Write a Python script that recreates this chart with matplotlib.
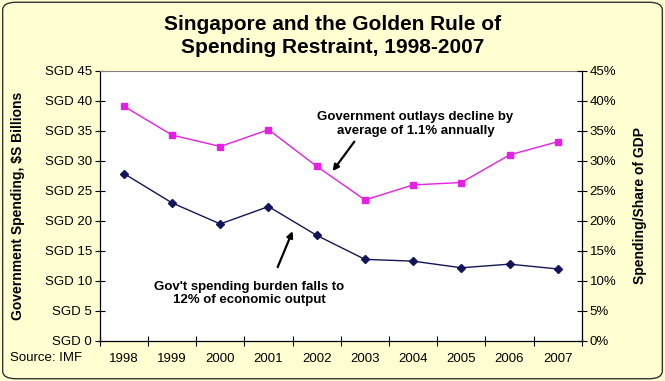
import matplotlib.pyplot as plt
from matplotlib.patches import FancyBboxPatch

plt.rcParams['font.family'] = ['Liberation Sans', 'DejaVu Sans']

years = ['1998', '1999', '2000', '2001', '2002', '2003', '2004', '2005', '2006', '2007']
outlays = [39.1, 34.3, 32.4, 35.2, 29.1, 23.5, 26.0, 26.4, 31.0, 33.2]   # SGD billions
share_gdp = [27.9, 23.0, 19.5, 22.4, 17.6, 13.6, 13.3, 12.2, 12.8, 12.0]  # % of GDP
left_ticks = ['SGD 0', 'SGD 5', 'SGD 10', 'SGD 15', 'SGD 20', 'SGD 25',
              'SGD 30', 'SGD 35', 'SGD 40', 'SGD 45']
right_ticks = ['0%', '5%', '10%', '15%', '20%', '25%', '30%', '35%', '40%', '45%']

bg = '#FFFFD2'
fig = plt.figure(figsize=(6.65, 3.81), dpi=100, facecolor=bg)
fig.patches.append(FancyBboxPatch((0.004, 0.006), 0.992, 0.988,
                                  boxstyle='round,pad=0,rounding_size=0.02',
                                  transform=fig.transFigure, facecolor=bg,
                                  edgecolor='#333333', linewidth=1.0, zorder=-1))

ax = fig.add_axes([0.150, 0.105, 0.725, 0.709])
ax.set_facecolor('white')
x = list(range(len(years)))

ax.plot(x, outlays, color='#E61EE6', lw=1.0, marker='s', ms=5,
        mfc='#E61EE6', mec='#E61EE6', zorder=3)
ax.plot(x, share_gdp, color='#14145A', lw=1.0, marker='D', ms=4,
        mfc='#14145A', mec='#14145A', zorder=3)

ax.set_xlim(-0.5, len(years) - 0.5)
ax.set_ylim(0, 45)
ax.set_yticks(range(0, 46, 5))
ax.set_yticklabels(left_ticks)
ax.set_xticks([i - 0.5 for i in range(len(years) + 1)])
ax.set_xticklabels([])
ax.set_xticks(x, minor=True)
ax.set_xticklabels(years, minor=True)
ax.tick_params(axis='x', which='minor', length=0, pad=9, labelsize=9.5)
ax.tick_params(axis='x', which='major', direction='inout', length=7, width=0.8)
ax.tick_params(axis='y', direction='inout', length=7, width=0.8, labelsize=9.5, pad=2)

for s in ['left', 'bottom']:
    ax.spines[s].set_color('black')
    ax.spines[s].set_linewidth(0.9)
ax.spines['top'].set_color('#808080')
ax.spines['right'].set_visible(False)

ax2 = ax.twinx()
ax2.set_ylim(0, 45)
ax2.set_yticks(range(0, 46, 5))
ax2.set_yticklabels(right_ticks)
ax2.tick_params(axis='y', direction='inout', length=7, width=0.8, labelsize=9.5, pad=2)
ax2.spines['right'].set_color('black')
ax2.spines['right'].set_linewidth(0.9)
for s in ['left', 'top', 'bottom']:
    ax2.spines[s].set_visible(False)

ax.set_ylabel('Government Spending, $S Billions', fontsize=10, fontweight='bold', labelpad=14)
ax2.set_ylabel('Spending/Share of GDP', fontsize=10, fontweight='bold', labelpad=12)

fig.text(0.5, 0.905, 'Singapore and the Golden Rule of\nSpending Restraint, 1998-2007',
         ha='center', va='center', fontsize=15, fontweight='bold', linespacing=1.3)
fig.text(0.015, 0.06, 'Source: IMF', ha='left', va='center', fontsize=9.5)

arrow = dict(arrowstyle='-|>', color='black', lw=1.6, mutation_scale=9,
             shrinkA=0, shrinkB=0)
ax.text(6.05, 36.2, 'Government outlays decline by\naverage of 1.1% annually',
        ha='center', va='center', fontsize=9.5, fontweight='bold')
ax.annotate('', xy=(4.33, 28.3), xytext=(4.78, 33.2), arrowprops=arrow)
ax.text(2.6, 7.9, "Gov't spending burden falls to\n12% of economic output",
        ha='center', va='center', fontsize=9.5, fontweight='bold')
ax.annotate('', xy=(3.50, 18.3), xytext=(3.19, 12.3), arrowprops=arrow)

fig.savefig('out.png', dpi=100, facecolor=bg)
